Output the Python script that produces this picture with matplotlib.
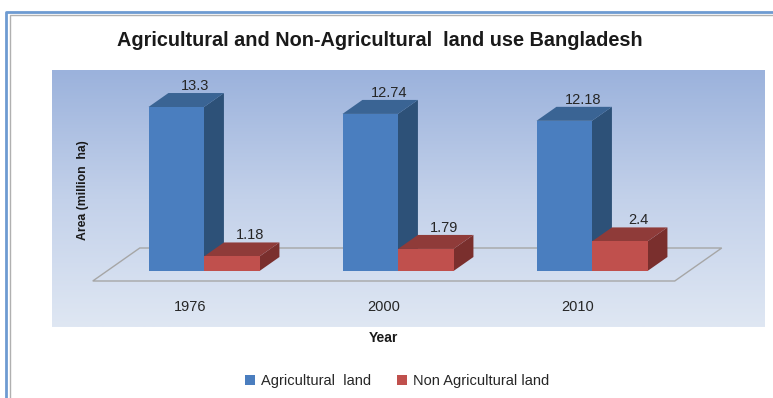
import numpy as np
import matplotlib.pyplot as plt
from matplotlib.patches import Polygon, Patch
from matplotlib.lines import Line2D
from matplotlib.colors import LinearSegmentedColormap

years = ["1976", "2000", "2010"]
agri = [13.3, 12.74, 12.18]
non_agri = [1.18, 1.79, 2.4]

W, H = 773, 398
fig = plt.figure(figsize=(W / 100, H / 100), dpi=100)

# outer double frame (figure pixels)
def px(x, y):
    return x / W, 1 - y / H

for off, col, lw in [(6.5, "#6E9BD1", 2.0), (9.5, "#B0B0B0", 1.0)]:
    xs, ys = zip(px(off, H), px(off, off + 5.5), px(W, off + 5.5))
    fig.add_artist(Line2D(xs, ys, color=col, lw=lw))

# plot area
left, right, top, bottom = 52, 765, 70, 327
ax = fig.add_axes([left / W, 1 - bottom / H, (right - left) / W, (bottom - top) / H])
ax.set_axis_off()

sx = 194.0    # px per category
sy = 12.33    # px per unit
x0, y0 = 204, 271  # px of data origin
ax.set_xlim((left - x0) / sx, (right - x0) / sx)
ax.set_ylim(-(bottom - y0) / sy, (y0 - top) / sy)

bg = LinearSegmentedColormap.from_list("bg", ["#DFE7F3", "#C3D1EA", "#9BB2DC"])
ax.imshow(np.linspace(0, 1, 256).reshape(-1, 1)[::-1], cmap=bg, aspect="auto",
          extent=[*ax.get_xlim(), *ax.get_ylim()], zorder=0)

DX = 47 / sx   # depth vector of the floor
DY = 33 / sy
d_front, d_back = -0.303, 0.697
dd = 0.424     # bar depth
w = 55.5 / sx  # bar width


def proj(x, y, d):
    return (x + d * DX, y + d * DY)


n = len(years)
floor = [proj(-0.5, 0, d_front), proj(n - 0.5, 0, d_front),
         proj(n - 0.5, 0, d_back), proj(-0.5, 0, d_back)]
ax.add_patch(Polygon(floor, closed=True, fc="none", ec="#A6A6A6", lw=1.0, zorder=1))


def bar3d(xl, v, front, topc, side):
    xr = xl + w
    ax.add_patch(Polygon([proj(xr, 0, 0), proj(xr, v, 0), proj(xr, v, dd), proj(xr, 0, dd)],
                         fc=side, ec="none", zorder=2))
    ax.add_patch(Polygon([proj(xl, v, 0), proj(xr, v, 0), proj(xr, v, dd), proj(xl, v, dd)],
                         fc=topc, ec="none", zorder=2))
    ax.add_patch(Polygon([proj(xl, 0, 0), proj(xr, 0, 0), proj(xr, v, 0), proj(xl, v, 0)],
                         fc=front, ec="none", zorder=2))
    cx, _ = proj(xl + w / 2, v, dd / 2)
    _, cy = proj(xl, v, dd)
    ax.annotate(f"{v:g}", (cx + 0.045, cy), xytext=(0, 0), textcoords="offset points",
                ha="center", va="bottom", fontsize=10.5, color="#262626",
                family="Liberation Sans", zorder=3)


for i in range(n):
    bar3d(i - w, agri[i], "#4A7EBF", "#3A6494", "#2D5178")
    bar3d(i, non_agri[i], "#C0504D", "#8F3B39", "#7A2F2D")
    lx, _ = proj(i, 0, d_front)
    ax.text(lx, -(307 - y0) / sy, years[i], ha="center", va="center",
            fontsize=10.5, color="#262626", family="Liberation Sans")

fig.text(380 / W, 1 - 40 / H, "Agricultural and Non-Agricultural  land use Bangladesh",
         ha="center", va="center", fontsize=14.3, fontweight="bold", color="#1A1A1A",
         family="Liberation Sans")
fig.text(83 / W, 1 - 190 / H, "Area (million  ha)", rotation=90, ha="center", va="center",
         fontsize=8.8, fontweight="bold", color="#1A1A1A", family="Liberation Sans")
fig.text(383 / W, 1 - 338 / H, "Year", ha="center", va="center",
         fontsize=10, fontweight="bold", color="#1A1A1A", family="Liberation Sans")

handles = [Patch(fc="#4A7EBF", ec="none", label="Agricultural  land"),
           Patch(fc="#C0504D", ec="none", label="Non Agricultural land")]
fig.legend(handles=handles, loc="center", bbox_to_anchor=(397 / W, 1 - 381 / H), ncol=2,
           frameon=False, handlelength=0.7, handleheight=0.7, handletextpad=0.4,
           columnspacing=1.8, prop={"family": "Liberation Sans", "size": 10.5},
           labelcolor="#262626")

fig.savefig("out.png", dpi=100)
